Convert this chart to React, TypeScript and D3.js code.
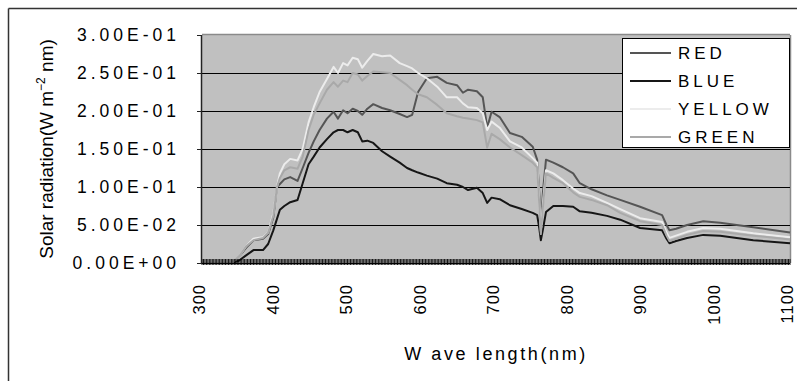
import * as d3 from 'd3';
import React from 'react';

// wavelength (nm) sample points
const wavelengths = [
  300, 340, 350, 360, 370, 383, 390, 397, 402, 406, 412, 420, 430, 437, 445, 452, 460, 470, 479, 485,
  492, 498, 505, 512, 518, 525, 533, 545, 556, 569, 579, 586, 594, 606, 620, 633, 647, 655, 662, 674,
  682, 688, 694, 705, 719, 735, 750, 756, 759, 761, 764, 768, 778, 791, 805, 814, 830, 851, 869, 896,
  926, 932, 936, 945, 960, 982, 1005, 1050, 1100,
];

const red = [
  0, 0, 0.008, 0.02, 0.03, 0.032, 0.038, 0.06, 0.1, 0.104, 0.11, 0.113, 0.108, 0.125, 0.145, 0.16, 0.175, 0.19, 0.199, 0.19,
  0.201, 0.197, 0.203, 0.2, 0.195, 0.203, 0.209, 0.204, 0.201, 0.196, 0.192, 0.195, 0.225, 0.243, 0.245, 0.237, 0.234, 0.224, 0.228, 0.226,
  0.218, 0.178, 0.199, 0.192, 0.171, 0.166, 0.153, 0.136, 0.09, 0.05, 0.095, 0.136, 0.132, 0.126, 0.118, 0.105, 0.097, 0.089, 0.083, 0.074,
  0.063, 0.05, 0.043, 0.045, 0.05, 0.055, 0.053, 0.047, 0.04,
];

const blue = [
  0, 0, 0.003, 0.01, 0.017, 0.017, 0.025, 0.043, 0.058, 0.07, 0.075, 0.08, 0.083, 0.105, 0.13, 0.14, 0.152, 0.163, 0.172, 0.175,
  0.175, 0.172, 0.175, 0.172, 0.16, 0.161, 0.158, 0.147, 0.14, 0.132, 0.125, 0.122, 0.119, 0.115, 0.111, 0.105, 0.103, 0.1, 0.096, 0.099,
  0.092, 0.079, 0.086, 0.084, 0.076, 0.071, 0.066, 0.063, 0.045, 0.03, 0.045, 0.067, 0.075, 0.075, 0.074, 0.068, 0.066, 0.062, 0.057, 0.046,
  0.043, 0.032, 0.026, 0.029, 0.033, 0.037, 0.036, 0.03, 0.026,
];

const yellow = [
  0, 0, 0.008, 0.022, 0.032, 0.034, 0.04, 0.065, 0.1, 0.118, 0.13, 0.137, 0.135, 0.15, 0.185, 0.205, 0.225, 0.242, 0.258, 0.25,
  0.263, 0.26, 0.27, 0.268, 0.257, 0.266, 0.275, 0.272, 0.273, 0.263, 0.259, 0.256, 0.25, 0.243, 0.232, 0.218, 0.218, 0.21, 0.205, 0.204,
  0.197, 0.175, 0.186, 0.178, 0.16, 0.152, 0.138, 0.132, 0.08, 0.042, 0.08, 0.122, 0.118, 0.109, 0.098, 0.092, 0.088, 0.079, 0.071, 0.059,
  0.054, 0.04, 0.033, 0.036, 0.041, 0.046, 0.045, 0.039, 0.034,
];

const green = [
  0, 0, 0.008, 0.022, 0.03, 0.033, 0.04, 0.062, 0.1, 0.112, 0.122, 0.126, 0.124, 0.14, 0.175, 0.195, 0.21, 0.228, 0.238, 0.232,
  0.24, 0.238, 0.25, 0.248, 0.24, 0.246, 0.252, 0.251, 0.25, 0.241, 0.234, 0.228, 0.222, 0.218, 0.208, 0.197, 0.193, 0.191, 0.19, 0.188,
  0.185, 0.152, 0.17, 0.163, 0.152, 0.142, 0.132, 0.126, 0.075, 0.038, 0.075, 0.118, 0.112, 0.105, 0.093, 0.087, 0.083, 0.076, 0.066, 0.055,
  0.05, 0.036, 0.029, 0.032, 0.037, 0.042, 0.041, 0.036, 0.031,
];

const seriesNames = ['RED', 'BLUE', 'YELLOW', 'GREEN'];
const seriesColors = ['#555555', '#161616', '#ececec', '#a9a9a9'];
const seriesValues = [red, blue, yellow, green];

const yTicks = [0, 0.05, 0.1, 0.15, 0.2, 0.25, 0.3];
const yTickLabels = ['0.00E+00', '5.00E-02', '1.00E-01', '1.50E-01', '2.00E-01', '2.50E-01', '3.00E-01'];
const xTicks = [300, 400, 500, 600, 700, 800, 900, 1000, 1100];

const W = 797;
const H = 381;
const margin = { top: 35, right: 7, bottom: 118, left: 202 };
const font = '"Liberation Sans", Arial, sans-serif';

export default function App() {
  const x = d3.scaleLinear().domain([300, 1100]).range([margin.left, W - margin.right]);
  const y = d3.scaleLinear().domain([0, 0.3]).range([H - margin.bottom, margin.top]);
  const line = d3
    .line<number>()
    .x((_, i) => x(wavelengths[i]))
    .y((d) => y(d));

  // dense category ticks along the bottom of the plot
  const minorTicks = d3.range(300, 1101, 2);

  const legendX = 622;
  const legendY = 38;
  const legendRow = 28;

  return (
    <svg width={W} height={H} style={{ position: 'absolute', left: 0, top: 0 }} fontFamily={font}>
      <rect x={0} y={0} width={W} height={H} fill="#ffffff" />
      {/* outer chart border */}
      <line x1={8.5} y1={8.5} x2={W} y2={8.5} stroke="#333" strokeWidth={1.5} />
      <line x1={8.5} y1={8.5} x2={8.5} y2={H} stroke="#333" strokeWidth={1.5} />

      {/* plot area */}
      <rect
        x={x(300)}
        y={y(0.3)}
        width={x(1100) - x(300)}
        height={y(0) - y(0.3)}
        fill="#c0c0c0"
      />
      <line x1={x(300)} x2={x(1100)} y1={y(0.3) - 0.5} y2={y(0.3) - 0.5} stroke="#8a8a8a" strokeWidth={1.5} />
      <line x1={x(1100) + 0.5} x2={x(1100) + 0.5} y1={y(0.3)} y2={y(0)} stroke="#8a8a8a" strokeWidth={1.5} />

      {yTicks.slice(1, -1).map((t) => (
        <line key={t} x1={x(300)} x2={x(1100)} y1={y(t) + 0.5} y2={y(t) + 0.5} stroke="#000" strokeWidth={1} />
      ))}

      {/* series */}
      {seriesValues.map((vals, i) => (
        <path
          key={seriesNames[i]}
          d={line(vals) || ''}
          fill="none"
          stroke={seriesColors[i]}
          strokeWidth={2}
          strokeLinejoin="round"
        />
      ))}

      {/* x axis ticks strip */}
      <g>
        {minorTicks.map((t) => (
          <line key={t} x1={x(t)} x2={x(t)} y1={y(0) - 4} y2={y(0) + 2} stroke="#000" strokeWidth={0.9} />
        ))}
      </g>
      <line x1={x(300)} x2={x(1100)} y1={y(0) + 0.5} y2={y(0) + 0.5} stroke="#000" strokeWidth={1} />

      {/* y axis */}
      <line x1={x(300) - 0.5} x2={x(300) - 0.5} y1={y(0.3)} y2={y(0)} stroke="#222" strokeWidth={1.5} />
      {yTicks.map((t, i) => (
        <g key={t}>
          <line x1={x(300) - 5} x2={x(300)} y1={y(t) + 0.5} y2={y(t) + 0.5} stroke="#222" strokeWidth={1} />
          <text
            x={180}
            y={y(t)}
            dy="0.36em"
            textAnchor="end"
            fontSize={17.5}
            letterSpacing={4}
            fill="#000"
          >
            {yTickLabels[i]}
          </text>
        </g>
      ))}

      {xTicks.map((t) => (
        <text
          key={t}
          transform={`translate(${x(t) + 3},284) rotate(-90)`}
          textAnchor="end"
          fontSize={16.5}
          letterSpacing={1}
          fill="#000"
        >
          {t}
        </text>
      ))}

      {/* axis titles */}
      <text x={496} y={360} textAnchor="middle" fontSize={18} letterSpacing={2.6} fill="#000">
        W ave length(nm)
      </text>
      <text transform="translate(53,149) rotate(-90)" textAnchor="middle" fontSize={19} fill="#000">
        Solar radiation(W m
        <tspan dy={-8} fontSize={12}>
          −2
        </tspan>
        <tspan dy={8}> nm)</tspan>
      </text>

      {/* legend */}
      <rect x={legendX + 0.5} y={legendY + 0.5} width={167} height={109} fill="#fff" stroke="#000" strokeWidth={1} />
      {seriesNames.map((name, i) => {
        const ly = legendY + 15 + i * legendRow;
        return (
          <g key={name}>
            <line x1={630} x2={671} y1={ly} y2={ly} stroke={seriesColors[i]} strokeWidth={2} />
            <text x={678} y={ly} dy="0.36em" fontSize={17} letterSpacing={4} fill="#000">
              {name}
            </text>
          </g>
        );
      })}
    </svg>
  );
}
